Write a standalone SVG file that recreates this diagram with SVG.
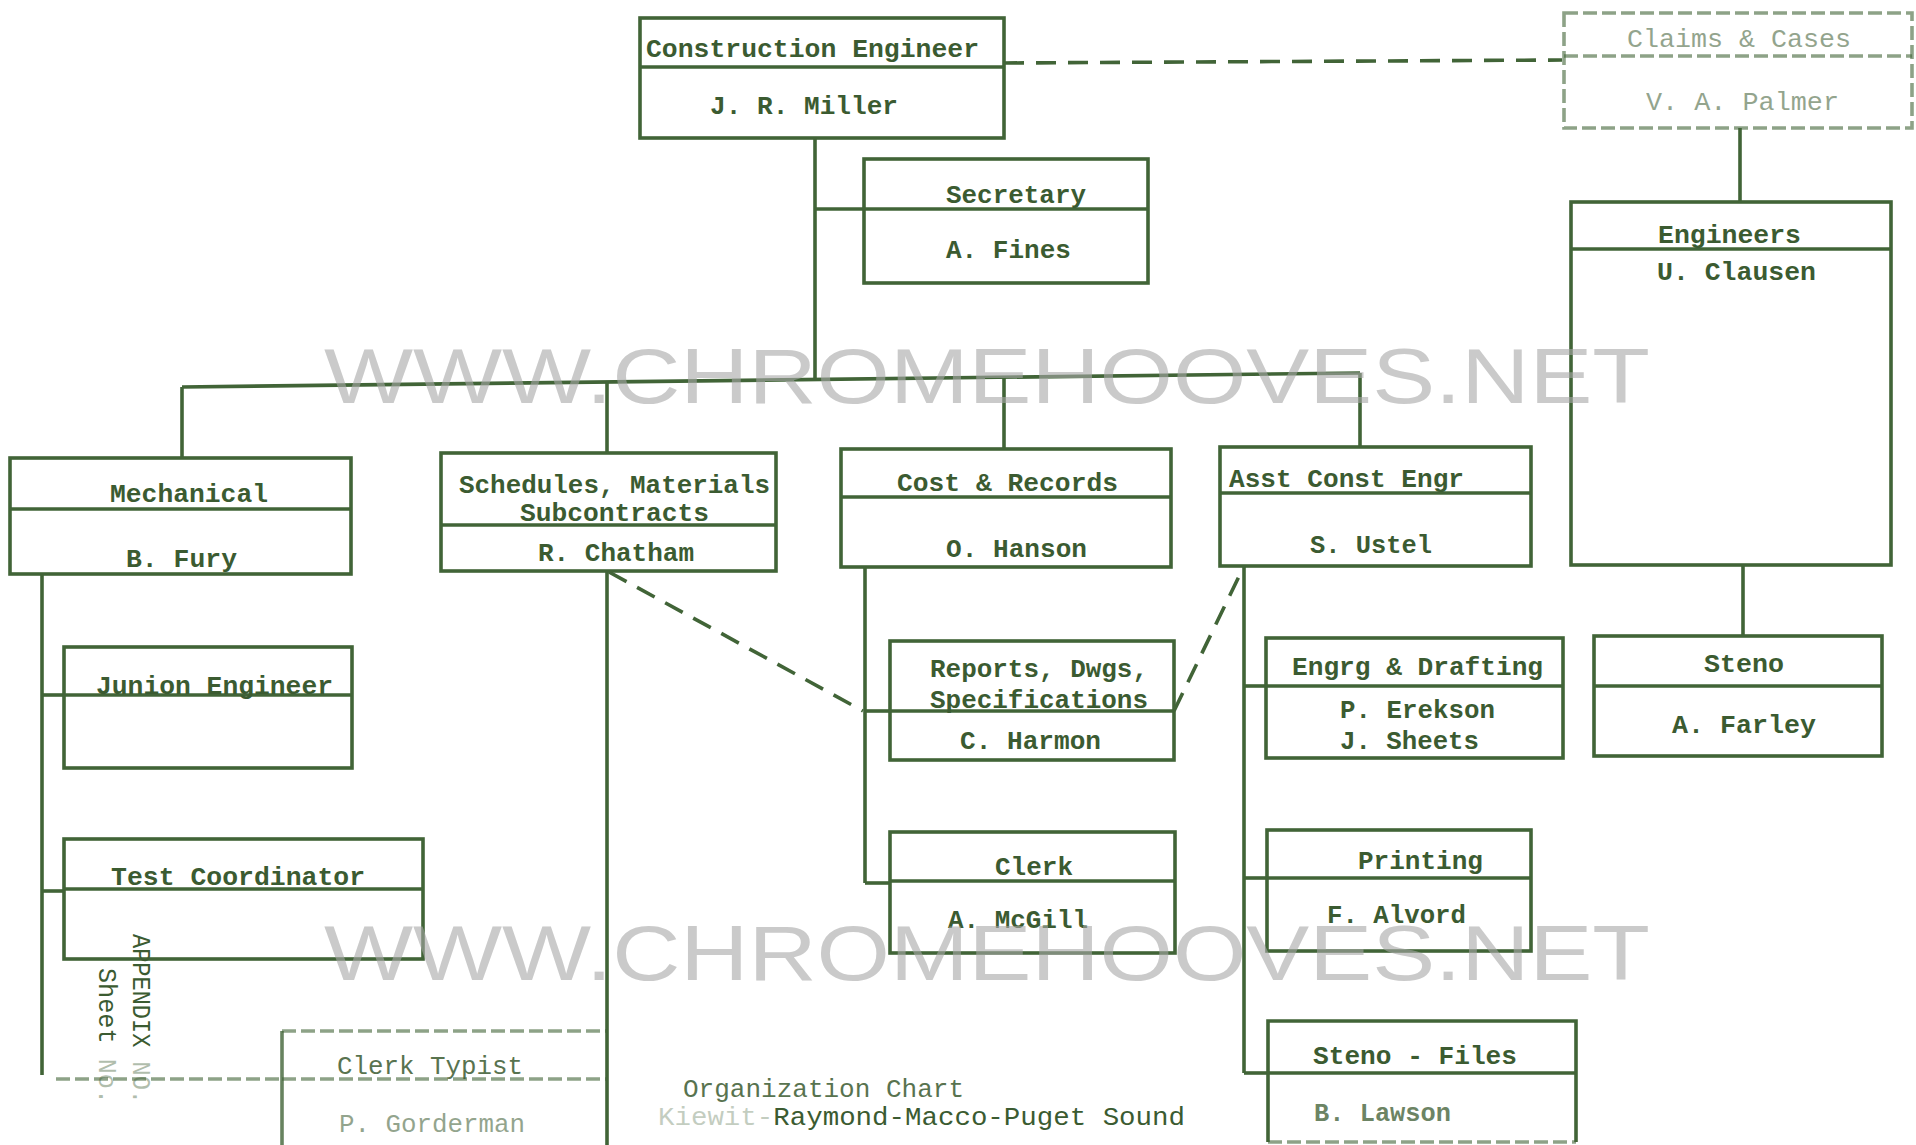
<svg xmlns="http://www.w3.org/2000/svg" width="1916" height="1145" viewBox="0 0 1916 1145">
<style>
.bx{fill:none;stroke:#416437;stroke-width:3.6}
.ln{fill:none;stroke:#416437;stroke-width:3.6}
.dash{stroke-dasharray:20 12}
.fd{stroke-dasharray:14 5;opacity:.6}
.t{font-family:"Liberation Mono","DejaVu Sans Mono",monospace;font-weight:bold;font-size:26px;fill:#3b5b31}
.tn{font-family:"Liberation Mono","DejaVu Sans Mono",monospace;font-size:25px;fill:#3b5b31}
.faint{opacity:.55}
.wm{font-family:"Liberation Sans",Arial,sans-serif;font-size:77px;fill:#a8a8a8;opacity:.6}
</style>
<rect width="1916" height="1145" fill="#ffffff"/>

<g id="connectors">
  <line class="ln dash" x1="1004" y1="63" x2="1562" y2="60"/>
  <line class="ln" x1="1740" y1="128" x2="1740" y2="202"/>
  <line class="ln" x1="815" y1="138" x2="815" y2="380"/>
  <line class="ln" x1="815" y1="209" x2="864" y2="209"/>
  <line class="ln" x1="182" y1="387" x2="1360" y2="373"/>
  <line class="ln" x1="182" y1="387" x2="182" y2="458"/>
  <line class="ln" x1="607" y1="382" x2="607" y2="453"/>
  <line class="ln" x1="1004" y1="378" x2="1004" y2="449"/>
  <line class="ln" x1="1360" y1="373" x2="1360" y2="447"/>
  <line class="ln" x1="42" y1="574" x2="42" y2="1075"/>
  <line class="ln" x1="42" y1="695" x2="64" y2="695"/>
  <line class="ln" x1="42" y1="891" x2="64" y2="891"/>
  <line class="ln fd" x1="56" y1="1079" x2="282" y2="1079"/>
  <line class="ln" x1="607" y1="571" x2="607" y2="1145"/>
  <line class="ln dash" x1="609" y1="572" x2="863" y2="711"/>
  <line class="ln dash" x1="1174" y1="711" x2="1244" y2="566"/>
  <line class="ln" x1="865" y1="567" x2="865" y2="883"/>
  <line class="ln" x1="865" y1="711" x2="890" y2="711"/>
  <line class="ln" x1="865" y1="883" x2="890" y2="883"/>
  <line class="ln" x1="1244" y1="566" x2="1244" y2="1073"/>
  <line class="ln" x1="1244" y1="686" x2="1266" y2="686"/>
  <line class="ln" x1="1244" y1="878" x2="1267" y2="878"/>
  <line class="ln" x1="1244" y1="1073" x2="1268" y2="1073"/>
  <line class="ln" x1="1743" y1="565" x2="1743" y2="636"/>
</g>

<g id="construction-engineer">
  <rect class="bx" x="640" y="18" width="364" height="120"/>
  <line class="ln" x1="640" y1="67" x2="1004" y2="67"/>
  <text class="t" x="646" y="57" textLength="333" lengthAdjust="spacingAndGlyphs">Construction Engineer</text>
  <text class="t" x="710" y="114" textLength="188" lengthAdjust="spacingAndGlyphs">J. R. Miller</text>
</g>

<g id="claims">
  <rect class="bx fd" x="1564" y="13" width="348" height="115"/>
  <line class="ln fd" x1="1564" y1="56" x2="1912" y2="56"/>
  <text class="tn faint" x="1627" y="47" textLength="224" lengthAdjust="spacingAndGlyphs">Claims &amp; Cases</text>
  <text class="tn faint" x="1646" y="110" textLength="193" lengthAdjust="spacingAndGlyphs">V. A. Palmer</text>
</g>

<g id="secretary">
  <rect class="bx" x="864" y="159" width="284" height="124"/>
  <line class="ln" x1="864" y1="209" x2="1148" y2="209"/>
  <text class="t" x="946" y="203" textLength="140" lengthAdjust="spacingAndGlyphs">Secretary</text>
  <text class="t" x="946" y="258" textLength="125" lengthAdjust="spacingAndGlyphs">A. Fines</text>
</g>

<g id="engineers">
  <rect class="bx" x="1571" y="202" width="320" height="363"/>
  <line class="ln" x1="1571" y1="249" x2="1891" y2="249"/>
  <text class="t" x="1658" y="243" textLength="143" lengthAdjust="spacingAndGlyphs">Engineers</text>
  <text class="t" x="1657" y="280" textLength="159" lengthAdjust="spacingAndGlyphs">U. Clausen</text>
</g>

<g id="mechanical">
  <rect class="bx" x="10" y="458" width="341" height="116"/>
  <line class="ln" x1="10" y1="509" x2="351" y2="509"/>
  <text class="t" x="110" y="502" textLength="158" lengthAdjust="spacingAndGlyphs">Mechanical</text>
  <text class="t" x="126" y="567" textLength="111" lengthAdjust="spacingAndGlyphs">B. Fury</text>
</g>

<g id="schedules">
  <rect class="bx" x="441" y="453" width="335" height="118"/>
  <line class="ln" x1="441" y1="525" x2="776" y2="525"/>
  <text class="t" x="459" y="493" font-size="23" textLength="311" lengthAdjust="spacingAndGlyphs">Schedules, Materials</text>
  <text class="t" x="520" y="521" font-size="23" textLength="189" lengthAdjust="spacingAndGlyphs">Subcontracts</text>
  <text class="t" x="538" y="561" textLength="156" lengthAdjust="spacingAndGlyphs">R. Chatham</text>
</g>

<g id="cost-records">
  <rect class="bx" x="841" y="449" width="330" height="118"/>
  <line class="ln" x1="841" y1="497" x2="1171" y2="497"/>
  <text class="t" x="897" y="491" textLength="221" lengthAdjust="spacingAndGlyphs">Cost &amp; Records</text>
  <text class="t" x="946" y="557" textLength="141" lengthAdjust="spacingAndGlyphs">O. Hanson</text>
</g>

<g id="asst-const-engr">
  <rect class="bx" x="1220" y="447" width="311" height="119"/>
  <line class="ln" x1="1220" y1="493" x2="1531" y2="493"/>
  <text class="t" x="1229" y="487" textLength="235" lengthAdjust="spacingAndGlyphs">Asst Const Engr</text>
  <text class="t" x="1310" y="553" textLength="122" lengthAdjust="spacingAndGlyphs">S. Ustel</text>
</g>

<g id="steno">
  <rect class="bx" x="1594" y="636" width="288" height="120"/>
  <line class="ln" x1="1594" y1="686" x2="1882" y2="686"/>
  <text class="t" x="1704" y="672" textLength="80" lengthAdjust="spacingAndGlyphs">Steno</text>
  <text class="t" x="1672" y="733" textLength="144" lengthAdjust="spacingAndGlyphs">A. Farley</text>
</g>

<g id="junior-engineer">
  <rect class="bx" x="64" y="647" width="288" height="121"/>
  <line class="ln" x1="64" y1="695" x2="352" y2="695"/>
  <text class="t" x="96" y="694" textLength="237" lengthAdjust="spacingAndGlyphs">Junion Engineer</text>
</g>

<g id="test-coordinator">
  <rect class="bx" x="64" y="839" width="359" height="120"/>
  <line class="ln" x1="64" y1="889" x2="423" y2="889"/>
  <text class="t" x="111" y="885" textLength="254" lengthAdjust="spacingAndGlyphs">Test Coordinator</text>
</g>

<g id="clerk-typist">
  <line class="ln fd" x1="282" y1="1031" x2="607" y2="1031"/>
  <line class="ln" x1="282" y1="1031" x2="282" y2="1145" opacity=".8"/>
  <line class="ln fd" x1="282" y1="1079" x2="607" y2="1079"/>
  <text class="tn" x="337" y="1074" textLength="186" lengthAdjust="spacingAndGlyphs" opacity=".85">Clerk Typist</text>
  <text class="tn faint" x="339" y="1132" textLength="186" lengthAdjust="spacingAndGlyphs">P. Gorderman</text>
</g>

<g id="reports">
  <rect class="bx" x="890" y="641" width="284" height="119"/>
  <line class="ln" x1="890" y1="711" x2="1174" y2="711"/>
  <text class="t" x="930" y="677" textLength="218" lengthAdjust="spacingAndGlyphs">Reports, Dwgs,</text>
  <text class="t" x="930" y="708" textLength="218" lengthAdjust="spacingAndGlyphs">Specifications</text>
  <text class="t" x="960" y="749" textLength="141" lengthAdjust="spacingAndGlyphs">C. Harmon</text>
</g>

<g id="clerk">
  <rect class="bx" x="890" y="832" width="285" height="121"/>
  <line class="ln" x1="890" y1="881" x2="1175" y2="881"/>
  <text class="t" x="995" y="875" textLength="78" lengthAdjust="spacingAndGlyphs">Clerk</text>
  <text class="t" x="948" y="928" textLength="140" lengthAdjust="spacingAndGlyphs">A. McGill</text>
</g>

<g id="engrg-drafting">
  <rect class="bx" x="1266" y="638" width="297" height="120"/>
  <line class="ln" x1="1266" y1="686" x2="1563" y2="686"/>
  <text class="t" x="1292" y="675" textLength="251" lengthAdjust="spacingAndGlyphs">Engrg &amp; Drafting</text>
  <text class="t" x="1340" y="718" textLength="155" lengthAdjust="spacingAndGlyphs">P. Erekson</text>
  <text class="t" x="1340" y="749" textLength="139" lengthAdjust="spacingAndGlyphs">J. Sheets</text>
</g>

<g id="printing">
  <rect class="bx" x="1267" y="830" width="264" height="121"/>
  <line class="ln" x1="1267" y1="878" x2="1531" y2="878"/>
  <text class="t" x="1358" y="869" textLength="125" lengthAdjust="spacingAndGlyphs">Printing</text>
  <text class="t" x="1327" y="923" textLength="139" lengthAdjust="spacingAndGlyphs">F. Alvord</text>
</g>

<g id="steno-files">
  <path class="ln" d="M1268 1142 V1021 H1576 V1142 M1268 1073 H1576"/>
  <line class="ln fd" x1="1268" y1="1142" x2="1576" y2="1142"/>
  <text class="t" x="1313" y="1064" textLength="204" lengthAdjust="spacingAndGlyphs">Steno - Files</text>
  <text class="t" x="1314" y="1121" textLength="137" lengthAdjust="spacingAndGlyphs" opacity=".75">B. Lawson</text>
</g>

<g id="notes">
  <text class="tn" transform="translate(133,934) rotate(90)" textLength="170" lengthAdjust="spacingAndGlyphs" font-size="24">APPENDIX <tspan opacity=".4">NO.</tspan></text>
  <text class="tn" transform="translate(99,968) rotate(90)" textLength="136" lengthAdjust="spacingAndGlyphs" font-size="24">Sheet <tspan opacity=".4">No.</tspan></text>
  <text class="tn" x="683" y="1097" textLength="281" lengthAdjust="spacingAndGlyphs" opacity=".85">Organization Chart</text>
  <text class="tn" x="658" y="1125" textLength="527" lengthAdjust="spacingAndGlyphs"><tspan opacity=".3">Kiewit-</tspan>Raymond-Macco-Puget Sound</text>
</g>

<g id="watermark">
  <text class="wm" x="324" y="403" textLength="1326" lengthAdjust="spacingAndGlyphs">WWW.CHROMEHOOVES.NET</text>
  <text class="wm" x="324" y="980" textLength="1326" lengthAdjust="spacingAndGlyphs">WWW.CHROMEHOOVES.NET</text>
</g>
</svg>
